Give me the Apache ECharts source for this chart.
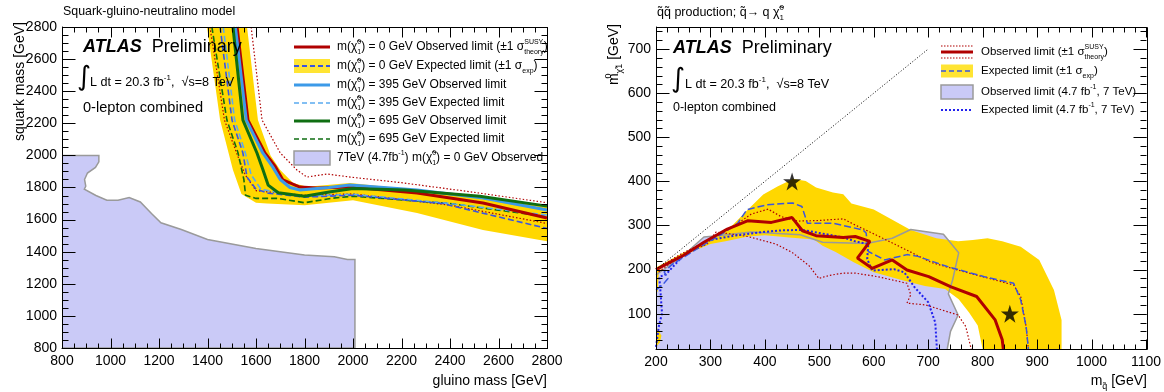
<!DOCTYPE html>
<html><head><meta charset="utf-8">
<script src="https://cdn.jsdelivr.net/npm/echarts@6/dist/echarts.min.js"></script>
<style>html,body{margin:0;padding:0;background:#fff}#c{width:1164px;height:392px}</style>
</head><body><div id="c"></div>
<script>
const FONT = 'Liberation Sans, Arial, Helvetica, sans-serif';

// ---------- Left panel: squark-gluino-neutralino (gluino mass, squark mass) ----------
const sgLav7TeV = [[800,2000],[952,2000],[952,1960],[938,1925],[905,1890],[893,1850],[898,1808],[892,1790],[940,1750],[985,1721],[1031,1721],[1077,1737],[1123,1710],[1169,1638],[1208,1580],[1292,1538],[1400,1476],[1600,1420],[1800,1379],[1923,1369],[1977,1352],[2008,1352],[2008,800],[800,800]];
const sgBandUpper = [[1563,2800],[1608,2220],[1660,2000],[1700,1909],[1753,1828],[1810,1805],[1988,1828],[2264,1784],[2536,1741],[2800,1690]];
const sgBandLower = [[2800,1465],[2536,1535],[2264,1641],[2000,1720],[1800,1690],[1645,1700],[1600,1705],[1540,1760],[1505,1909],[1452,2220],[1398,2800]];
const sgObs0 = [[1522,2800],[1567,2220],[1637,2015],[1680,1930],[1711,1847],[1781,1803],[1852,1797],[1988,1803],[2264,1766],[2536,1703],[2800,1610]];
const sgObs0Up = [[1580,2800],[1625,2220],[1700,2015],[1769,1909],[1810,1865],[1893,1884],[1988,1865],[2200,1830],[2500,1770],[2800,1705]];
const sgObs0Dn = [[1410,2800],[1470,2220],[1520,2015],[1555,1880],[1600,1780],[1700,1765],[1800,1752],[2000,1760],[2400,1690],[2800,1576]];
const sgExp0 = [[1452,2800],[1501,2220],[1546,2015],[1563,1865],[1600,1790],[1650,1765],[1800,1740],[2000,1752],[2369,1700],[2800,1545]];
const sgObs395 = [[1515,2800],[1560,2220],[1628,2015],[1668,1930],[1700,1850],[1740,1800],[1781,1784],[1900,1800],[1988,1815],[2264,1784],[2536,1735],[2800,1660]];
const sgExp395 = [[1465,2800],[1512,2220],[1556,2015],[1580,1880],[1620,1790],[1700,1765],[1800,1745],[2000,1758],[2400,1700],[2800,1628]];
const sgObs695 = [[1505,2800],[1546,2220],[1604,2015],[1629,1909],[1650,1815],[1692,1767],[1800,1746],[1908,1773],[2000,1794],[2215,1785],[2523,1746],[2800,1684]];
const sgExp695 = [[1418,2800],[1480,2220],[1526,2015],[1550,1850],[1557,1752],[1600,1732],[1692,1732],[1800,1705],[1908,1732],[2000,1746],[2400,1700],[2800,1618]];

// ---------- Right panel: squark pair production (m_squark, m_neutralino) ----------
const qqGray7 = [[200,188],[250,232],[288,274],[313,277],[375,285],[465,279],[506,262],[587,259],[634,271],[668,291],[728,280],[756,238],[745,177],[737,145],[755,97],[741,60],[735,20]];
const qqBandOuter = [[200,205],[250,238],[300,270],[340,300],[368,335],[397,370],[424,389],[444,401],[451,406],[475,401],[494,386],[525,375],[544,371],[559,350],[600,336],[634,313],[668,290],[715,271],[755,264],[782,267],[809,271],[836,264],[870,252],[904,222],[931,154],[945,86],[945,20]];
const qqBandInner = [[800,20],[791,73],[775,103],[756,133],[731,156],[694,163],[656,175],[600,194],[564,216],[530,240],[506,254],[490,268],[450,272],[400,278],[369,275],[330,265],[300,258],[250,232],[210,205],[205,190],[203,150],[200,150]];
const qqBandPatch = [[200,25],[207,35],[210,50],[205,62],[200,70]];
const qqObs = [[200,200],[250,232],[288,262],[331,292],[369,311],[412,307],[450,318],[469,288],[494,277],[544,273],[566,275],[593,264],[570,226],[597,203],[634,222],[661,199],[701,184],[742,161],[789,139],[823,86],[836,41],[838,20]];
const qqObsUp = [[200,202],[250,238],[300,268],[340,296],[375,326],[406,337],[430,320],[460,310],[494,311],[544,315],[563,303],[600,281],[638,258],[669,239],[706,216],[769,194],[806,182],[857,165],[870,139],[880,70],[884,20]];
const qqObsDn = [[205,195],[231,219],[260,240],[294,258],[310,285],[330,282],[369,275],[420,258],[450,239],[481,209],[499,180],[519,187],[544,192],[566,192],[607,184],[661,169],[668,143],[661,124],[695,120],[755,97],[769,71],[779,20]];
const qqExp = [[200,154],[212,165],[222,180],[215,195],[230,212],[270,243],[320,280],[350,305],[367,336],[404,347],[451,351],[468,343],[478,305],[526,305],[580,290],[586,283],[590,241],[620,222],[661,234],[681,230],[735,207],[803,184],[857,169],[870,131],[880,70],[884,20]];
const qqExp7 = [[200,25],[205,70],[211,101],[208,154],[206,183],[219,190],[250,232],[294,266],[344,277],[394,285],[431,289],[469,290],[544,273],[566,264],[590,258],[588,224],[597,198],[637,201],[656,194],[675,160],[700,126],[713,80],[716,20]];
const qqDiag = [[200,200],[700,700]];
const qqStars = [[450,400],[850,100]];

// ---------- tick positions ----------
function range(a, b, s){ const r = []; for (let v = a; v <= b + 1e-9; v += s) r.push(v); return r; }
const sgXMajor = range(800, 2800, 200), sgXMinor = range(800, 2800, 50);
const sgYMajor = range(800, 2800, 200), sgYMinor = range(800, 2800, 50);
const qqXMajor = range(200, 1100, 100), qqXMinor = range(200, 1100, 20);
const qqYMajor = range(100, 700, 100), qqYMinor = range(40, 740, 20);

// ---------- helpers ----------
function poly(points, xi, yi, fill, stroke, z) {
  return {type:'custom', xAxisIndex:xi, yAxisIndex:yi, z:z, clip:true, silent:true, data:points,
    renderItem:function(params, api){
      if (params.dataIndex !== 0) return null;
      return {type:'polygon', shape:{points:points.map(function(p){return api.coord(p);})},
        style:{fill:fill, stroke:stroke||null, lineWidth:1.5}};
    }};
}
function line(points, xi, yi, color, width, dash, z) {
  return {type:'line', xAxisIndex:xi, yAxisIndex:yi, data:points, showSymbol:false, symbol:'none',
    lineStyle:{color:color, width:width, type:dash||'solid'}, z:z, silent:true, clip:true};
}
function axisBase(extra) {
  return Object.assign({type:'value', axisLine:{show:true, onZero:false, lineStyle:{color:'#000', width:1}},
    axisTick:{show:false}, minorTick:{show:false}, splitLine:{show:false}, minorSplitLine:{show:false}}, extra);
}
const LBL = {color:'#000', fontSize:14, fontFamily:FONT, formatter:function(v){return String(v);}};

const RED='#b00000', BLUE='#3c9ae8', LBLUE='#5aabf0', GREEN='#0f6e12', DBLUE='#3a55e0', YEL='#ffd700', LAV='#cacaf7', GRAY='#9a9a9a';

function rich(fs){
  const s = Math.round(fs*0.62);
  return {
    s:{fontSize:s, lineHeight:s, verticalAlign:'top', fontFamily:FONT, fill:'#000'},
    st:{fontSize:s, lineHeight:s, verticalAlign:'top', fontFamily:FONT, width:0, fill:'#000'},
    b:{fontSize:s, lineHeight:s, verticalAlign:'bottom', fontFamily:FONT, fill:'#000'},
    a:{fontSize:fs, fontWeight:'bold', fontStyle:'italic', fontFamily:FONT, fill:'#000'}
  };
}
const G = [];
function txt(x, y, text, fs, style, extra) {
  const st = Object.assign({text:text, fill:'#000', fontSize:fs, fontFamily:FONT, align:'left', verticalAlign:'middle',
    lineHeight:Math.round(fs*1.45), rich:rich(fs)}, style||{});
  G.push(Object.assign({type:'text', x:x, y:y, z:100, silent:true, style:st}, extra||{}));
}
function gl(x1,y1,x2,y2,color,w,dash){ G.push({type:'line', z:100, silent:true, shape:{x1:x1,y1:y1,x2:x2,y2:y2}, style:{stroke:color, lineWidth:w, lineDash:dash||null}}); }
function gr(x,y,w,h,fill,stroke,lw){ G.push({type:'rect', z:100, silent:true, shape:{x:x,y:y,width:w,height:h}, style:{fill:fill, stroke:stroke||null, lineWidth:lw||1.5}}); }

// plot frames
gr(62.5,27.5,485,321,null,'#000',1);
gr(656.5,27.5,491,322,null,'#000',1);

// left panel texts
txt(63, 12, 'Squark-gluino-neutralino model', 12.4);
txt(83, 47, '{a|ATLAS}  Preliminary', 18);
txt(77, 78, '∫', 27, {fontFamily:'DejaVu Sans'});
txt(90, 83, 'L dt = 20.3 fb{s|-1},  √s=8 TeV', 12.6);
txt(83, 108, '0-lepton combined', 14.6);
txt(547, 381, 'gluino mass [GeV]', 14, {align:'right'});
txt(20, 22, 'squark mass [GeV]', 14, {align:'right'}, {rotation:Math.PI/2});
// left legend
const lrows = [47,66,85,103,121,139,158];
gl(294,lrows[0],330,lrows[0],RED,3);
gr(294,lrows[1]-7,36,14,'#ffe433'); gl(294,lrows[1],330,lrows[1],DBLUE,2,[5,3]);
gl(294,lrows[2],330,lrows[2],BLUE,3);
gl(294,lrows[3],330,lrows[3],LBLUE,1.5,[5,3]);
gl(294,lrows[4],330,lrows[4],GREEN,3);
gl(294,lrows[5],330,lrows[5],GREEN,1.5,[5,3]);
gr(294,lrows[6]-7,36,14,LAV,GRAY);
const CHI = 'χ̃{st|0}{b|1}';
txt(337,lrows[0],'m('+CHI+') = 0 GeV Observed limit (±1 σ{st|SUSY}{b|theory})',12);
txt(337,lrows[1],'m('+CHI+') = 0 GeV Expected limit (±1 σ{b|exp})',12);
txt(337,lrows[2],'m('+CHI+') = 395 GeV Observed limit',12);
txt(337,lrows[3],'m('+CHI+') = 395 GeV Expected limit',12);
txt(337,lrows[4],'m('+CHI+') = 695 GeV Observed limit',12);
txt(337,lrows[5],'m('+CHI+') = 695 GeV Expected limit',12);
txt(337,lrows[6],'7TeV (4.7fb{s|-1}) m('+CHI+') = 0 GeV Observed',12);

// right panel texts
txt(657, 13, 'q̃q̃ production; q̃→ q '+CHI, 12.5);
txt(673, 48, '{a|ATLAS}  Preliminary', 18);
txt(671, 80, '∫', 27, {fontFamily:'DejaVu Sans'});
txt(685, 85, 'L dt = 20.3 fb{s|-1},  √s=8 TeV', 12.6);
txt(673, 108, '0-lepton combined', 12.5);
txt(1147, 381, 'm{b|q̃} [GeV]', 14, {align:'right'});
txt(614, 24, 'm{st|0}{b|χ̃1} [GeV]', 14, {align:'right'}, {rotation:Math.PI/2});
// right legend
const rrows = [52,71,92,110];
gl(941,rrows[0]-6,973,rrows[0]-6,RED,1.2,[1.5,1.5]);
gl(941,rrows[0]+6,973,rrows[0]+6,RED,1.2,[1.5,1.5]);
gl(941,rrows[0],973,rrows[0],RED,3);
gr(941,rrows[1]-6.5,32,13,'#ffe433'); gl(941,rrows[1],973,rrows[1],DBLUE,1.5,[5,3]);
gr(941,rrows[2]-7,32,14,LAV,GRAY);
gl(941,rrows[3],973,rrows[3],'#2020ee',2,[2,2]);
txt(981,rrows[0],'Observed limit (±1 σ{st|SUSY}{b|theory})',11.5);
txt(981,rrows[1],'Expected limit (±1 σ{b|exp})',11.5);
txt(981,rrows[2],'Observed limit (4.7 fb{s|-1}, 7 TeV)',11.5);
txt(981,rrows[3],'Expected limit (4.7 fb{s|-1}, 7 TeV)',11.5);

const STAR = 'path://M50,0 L61.2,34.5 L97.6,34.5 L68.2,55.9 L79.4,90.5 L50,69.1 L20.6,90.5 L31.8,55.9 L2.4,34.5 L38.8,34.5 Z';

const option = {
  animation:false,
  grid:[{left:62, top:27, width:485, height:321}, {left:656, top:27, width:491, height:322}],
  xAxis:[
    axisBase({gridIndex:0, min:800, max:2800, interval:200, position:'bottom', axisLabel:Object.assign({margin:6}, LBL)}),
    axisBase({gridIndex:1, min:200, max:1100, interval:100, position:'bottom', axisLabel:Object.assign({margin:6}, LBL)})
  ],
  yAxis:[
    axisBase({gridIndex:0, min:800, max:2800, interval:200, position:'left', axisLabel:Object.assign({margin:5}, LBL)}),
    axisBase({gridIndex:1, min:20, max:750, interval:20, position:'left',
      axisLabel:Object.assign({margin:5}, LBL, {formatter:function(v){return (v % 100 === 0) ? String(v) : '';}})})
  ],
  series:[
    // left
    poly(sgLav7TeV, 0, 0, LAV, GRAY, 1),
    poly(sgBandUpper.concat(sgBandLower), 0, 0, YEL, null, 2),
    line(sgObs0Up, 0, 0, RED, 1.2, [1.5,2], 3),
    line(sgObs0Dn, 0, 0, RED, 1.2, [1.5,2], 3),
    line(sgExp695, 0, 0, GREEN, 1.6, [6,3], 4),
    line(sgExp395, 0, 0, LBLUE, 1.6, [6,3], 4),
    line(sgExp0, 0, 0, DBLUE, 1.6, [6,3], 4),
    line(sgObs0, 0, 0, RED, 3, null, 5),
    line(sgObs395, 0, 0, BLUE, 3, null, 5),
    line(sgObs695, 0, 0, GREEN, 3, null, 6),
    // right
    poly(qqGray7.concat([[200,20]]), 1, 1, LAV, null, 1),
    poly(qqBandOuter.concat(qqBandInner), 1, 1, YEL, null, 2),
    poly(qqBandPatch, 1, 1, YEL, null, 2),
    line(qqGray7, 1, 1, GRAY, 1.5, null, 3),
    line(qqObsUp, 1, 1, RED, 1.2, [1.5,2], 4),
    line(qqObsDn, 1, 1, RED, 1.2, [1.5,2], 4),
    line(qqExp7, 1, 1, '#2020ee', 2, [2,2], 4),
    line(qqExp, 1, 1, DBLUE, 1.5, [7,3], 4),
    line(qqObs, 1, 1, RED, 3, null, 5),
    line(qqDiag, 1, 1, '#000', 1, [1,2], 5),
    {type:'scatter', xAxisIndex:1, yAxisIndex:1, data:qqStars, symbol:STAR, symbolSize:18, itemStyle:{color:'#000'}, z:6, silent:true}
  ],
  graphic:G
};
const chart = echarts.init(document.getElementById('c'), null, {renderer:'canvas'});
chart.setOption(option);

// ROOT-style inward ticks on all four sides, positioned through the chart's own axis scales
try {
  const TK = [];
  function addTicks(gi, xr, yr, xMaj, xMin, yMaj, yMin) {
    const bl = chart.convertToPixel({gridIndex:gi}, [xr[0], yr[0]]);
    const tr = chart.convertToPixel({gridIndex:gi}, [xr[1], yr[1]]);
    const L = Math.round(bl[0]) + 0.5, B = Math.round(bl[1]) + 0.5, R = Math.round(tr[0]) + 0.5, T = Math.round(tr[1]) + 0.5;
    function seg(x1,y1,x2,y2){ TK.push({type:'line', z:110, silent:true, shape:{x1:x1,y1:y1,x2:x2,y2:y2}, style:{stroke:'#000', lineWidth:1}}); }
    function xt(v, len){ const x = Math.round(chart.convertToPixel({gridIndex:gi}, [v, yr[0]])[0]) + 0.5; seg(x, B, x, B - len); seg(x, T, x, T + len); }
    function yt(v, len){ const y = Math.round(chart.convertToPixel({gridIndex:gi}, [xr[0], v])[1]) + 0.5; seg(L, y, L + len, y); seg(R, y, R - len, y); }
    xMin.forEach(function(v){ xt(v, 5); }); xMaj.forEach(function(v){ xt(v, 10); });
    yMin.forEach(function(v){ yt(v, 6); }); yMaj.forEach(function(v){ yt(v, 13); });
  }
  addTicks(0, [800,2800], [800,2800], sgXMajor, sgXMinor, sgYMajor, sgYMinor);
  addTicks(1, [200,1100], [20,750], qqXMajor, qqXMinor, qqYMajor, qqYMinor);
  chart.setOption({graphic: G.concat(TK)});
} catch (e) {}
</script></body></html>
